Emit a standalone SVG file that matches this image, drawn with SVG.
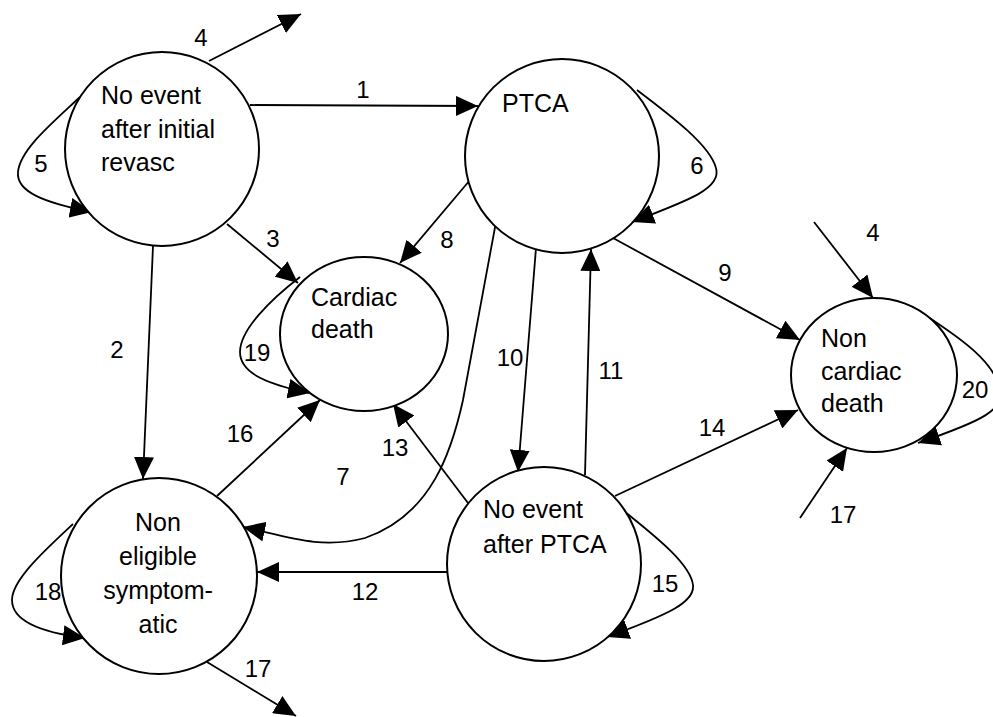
<svg xmlns="http://www.w3.org/2000/svg" width="993" height="717" viewBox="0 0 993 717">
  <style>
    .state { fill: #fff; stroke: #000; stroke-width: 2; }
    .name { font-family: "Liberation Sans", Arial, sans-serif; font-size: 25px; fill: #000; }
    .edge { fill: none; stroke: #000; stroke-width: 1.8; marker-end: url(#ah); }
    .num { font-family: "Liberation Sans", Arial, sans-serif; font-size: 24px; fill: #000; text-anchor: middle; }
  </style>
  <defs>
    <marker id="ah" markerUnits="userSpaceOnUse" markerWidth="22" markerHeight="20" refX="22" refY="10" orient="auto">
      <path d="M0,0 L22,10 L0,20 z" fill="#000"/>
    </marker>
  </defs>
  <rect width="993" height="717" fill="#fff"/>

  <g id="connectors">
    <!-- 1 -->
    <path class="edge" d="M250,105 L478,106"/>
    <!-- 2 -->
    <path class="edge" d="M153,246 L143,479"/>
    <!-- 3 -->
    <path class="edge" d="M227,224 L298,283"/>
    <!-- 4 out of initial state -->
    <path class="edge" d="M209,61 L301,14"/>
    <!-- 5 self loop -->
    <path class="edge" d="M80,97 C 50,125 20,150 18,172 C 16,192 45,203 92,212"/>
    <!-- 6 self loop -->
    <path class="edge" d="M637,90 C 670,115 710,145 716,168 C 722,188 690,200 632,222"/>
    <!-- 7 -->
    <path class="edge" d="M496,222 L463,400 C 452,450 432,515 365,538 C 320,550 285,536 243,527"/>
    <!-- 8 -->
    <path class="edge" d="M470,180 L400,263"/>
    <!-- 9 -->
    <path class="edge" d="M613,238 L800,340"/>
    <!-- 10 -->
    <path class="edge" d="M536,248 L518,472"/>
    <!-- 11 -->
    <path class="edge" d="M585,475 L591,249"/>
    <!-- 12 -->
    <path class="edge" d="M448,572 L257,572"/>
    <!-- 13 -->
    <path class="edge" d="M468,503 L393,404"/>
    <!-- 14 -->
    <path class="edge" d="M615,496 L798,410"/>
    <!-- 15 self loop -->
    <path class="edge" d="M613,502 C 640,525 690,560 693,585 C 695,602 670,614 607,637"/>
    <!-- 16 -->
    <path class="edge" d="M217,496 L320,400"/>
    <!-- 17 out of non eligible -->
    <path class="edge" d="M207,662 L296,716"/>
    <!-- 17 into non cardiac death -->
    <path class="edge" d="M800,518 L847,448"/>
    <!-- 4 into non cardiac death -->
    <path class="edge" d="M814,222 L873,298"/>
    <!-- 18 self loop -->
    <path class="edge" d="M73,524 C 45,550 12,580 12,600 C 12,622 45,633 85,638"/>
    <!-- 19 self loop -->
    <path class="edge" d="M300,277 C 270,300 240,330 240,352 C 240,374 270,385 310,393"/>
    <!-- 20 self loop -->
    <path class="edge" d="M928,317 C 960,338 995,362 1000,390 C 1003,410 985,420 918,443"/>

    <text class="num" x="363" y="98">1</text>
    <text class="num" x="117" y="358">2</text>
    <text class="num" x="273" y="247">3</text>
    <text class="num" x="201" y="46">4</text>
    <text class="num" x="41" y="172">5</text>
    <text class="num" x="697" y="174">6</text>
    <text class="num" x="343" y="485">7</text>
    <text class="num" x="447" y="248">8</text>
    <text class="num" x="725" y="281">9</text>
    <text class="num" x="510" y="366">10</text>
    <text class="num" x="611" y="379">11</text>
    <text class="num" x="365" y="600">12</text>
    <text class="num" x="395" y="456">13</text>
    <text class="num" x="712" y="436">14</text>
    <text class="num" x="665" y="592">15</text>
    <text class="num" x="240" y="442">16</text>
    <text class="num" x="258" y="677">17</text>
    <text class="num" x="843" y="523">17</text>
    <text class="num" x="48" y="600">18</text>
    <text class="num" x="257" y="361">19</text>
    <text class="num" x="975" y="398">20</text>
    <text class="num" x="873" y="241">4</text>
  </g>

  <g id="no-event-initial">
    <circle class="state" cx="162" cy="149" r="97"/>
    <text class="name" x="101" y="104">No event</text>
    <text class="name" x="101" y="138">after initial</text>
    <text class="name" x="101" y="171">revasc</text>
  </g>

  <g id="ptca">
    <circle class="state" cx="562" cy="156" r="97"/>
    <text class="name" x="502" y="112">PTCA</text>
  </g>

  <g id="cardiac-death">
    <ellipse class="state" cx="364" cy="334" rx="84" ry="77"/>
    <text class="name" x="311" y="306">Cardiac</text>
    <text class="name" x="311" y="338">death</text>
  </g>

  <g id="non-cardiac-death">
    <ellipse class="state" cx="874" cy="375" rx="83" ry="77"/>
    <text class="name" x="821" y="347">Non</text>
    <text class="name" x="821" y="380">cardiac</text>
    <text class="name" x="821" y="412">death</text>
  </g>

  <g id="non-eligible">
    <circle class="state" cx="159" cy="576" r="98"/>
    <text class="name" x="158" y="531" text-anchor="middle">Non</text>
    <text class="name" x="158" y="565" text-anchor="middle">eligible</text>
    <text class="name" x="158" y="599" text-anchor="middle">symptom-</text>
    <text class="name" x="158" y="633" text-anchor="middle">atic</text>
  </g>

  <g id="no-event-ptca">
    <circle class="state" cx="544" cy="564" r="97"/>
    <text class="name" x="483" y="518">No event</text>
    <text class="name" x="483" y="553">after PTCA</text>
  </g>
</svg>
